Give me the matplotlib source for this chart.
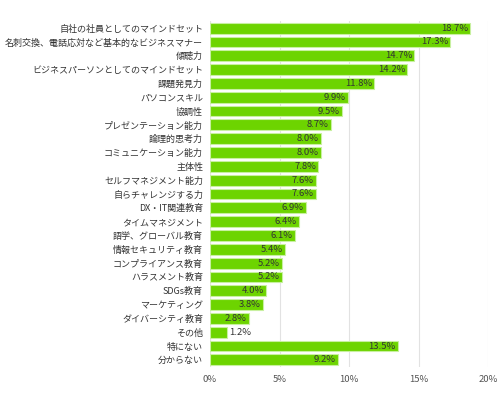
import matplotlib
matplotlib.use("Agg")
import matplotlib.pyplot as plt

plt.rcParams['font.family'] = ['Noto Sans CJK JP', 'DejaVu Sans']

categories = ["自社の社員としてのマインドセット", "名刺交換、電話応対など基本的なビジネスマナー", "傾聴力",
              "ビジネスパーソンとしてのマインドセット", "課題発見力", "パソコンスキル", "協調性",
              "プレゼンテーション能力", "論理的思考力", "コミュニケーション能力", "主体性",
              "セルフマネジメント能力", "自らチャレンジする力", "DX・IT関連教育", "タイムマネジメント",
              "語学、グローバル教育", "情報セキュリティ教育", "コンプライアンス教育", "ハラスメント教育",
              "SDGs教育", "マーケティング", "ダイバーシティ教育", "その他", "特にない", "分からない"]
values = [18.7, 17.3, 14.7, 14.2, 11.8, 9.9, 9.5, 8.7, 8.0, 8.0, 7.8, 7.6, 7.6, 6.9, 6.4,
          6.1, 5.4, 5.2, 5.2, 4.0, 3.8, 2.8, 1.2, 13.5, 9.2]
xticks = [0, 5, 10, 15, 20]
xtick_labels = ["0%", "5%", "10%", "15%", "20%"]

fig = plt.figure(figsize=(5, 4), dpi=100)
ax = fig.add_axes([0.42, 0.083, 0.556, 0.864])
y = list(range(len(categories)))
ax.barh(y, values, height=0.78, color="#6dd400", edgecolor="#c8f0a0", linewidth=0.8, zorder=3)
ax.set_ylim(len(categories) - 0.5, -0.5)
ax.set_xlim(0, 20)
ax.set_yticks(y)
ax.set_yticklabels(categories, fontsize=6.5, color="#333333")
ax.set_xticks(xticks)
ax.set_xticklabels(xtick_labels, fontsize=6.8, color="#555555")
ax.tick_params(axis="y", length=0, pad=5)
ax.tick_params(axis="x", length=0, pad=6)
ax.grid(axis="x", color="#e2e2e2", linewidth=0.8, zorder=0)
for s in ax.spines.values():
    s.set_visible(False)
ax.axvline(0, color="#e2e2e2", linewidth=0.8, zorder=1)

for yi, v in zip(y, values):
    lbl = f"{v:.1f}%"
    if v >= 2.5:
        ax.text(v - 0.15, yi, lbl, ha="right", va="center", fontsize=6.8, color="#333333", zorder=4)
    else:
        ax.text(v + 0.2, yi, lbl, ha="left", va="center", fontsize=6.8, color="#333333", zorder=4)

fig.savefig("out.png", dpi=100)
